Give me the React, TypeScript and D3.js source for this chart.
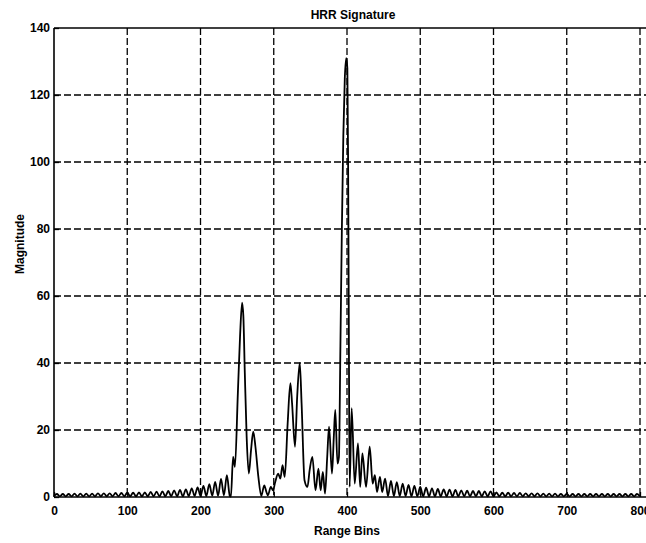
import React, { useRef, useEffect } from 'react';
import * as d3 from 'd3';

// axis ticks
const xTicks = [0, 100, 200, 300, 400, 500, 600, 700, 800];
const yTicks = [0, 20, 40, 60, 80, 100, 120, 140];

// sidelobe ripple left of the target, one sample every 4 bins from bin 0
const leftStart = 0;
const sideStep = 4;
const leftLobes = [
  0.3, 0.9, 0.2, 0.9, 0.2, 0.9, 0.2, 1.0, 0.2, 1.0,
  0.2, 1.0, 0.2, 1.0, 0.2, 1.1, 0.2, 1.1, 0.2, 1.1,
  0.2, 1.2, 0.2, 1.2, 0.2, 1.3, 0.2, 1.3, 0.2, 1.4,
  0.2, 1.4, 0.2, 1.5, 0.2, 1.6, 0.2, 1.7, 0.2, 1.8,
  0.2, 2.0, 0.2, 2.1, 0.2, 2.3, 0.3, 2.6, 0.3, 2.9,
  0.3, 3.3, 0.3, 3.8, 0.4, 4.5, 0.4, 5.4, 0.5, 6.5,
];

// scatterers, [bin, magnitude]
const coreProfile: [number, number][] = [
  [240, 0.3], [241.5, 0.1], [244.5, 12], [247, 9], [251, 31], [254, 48],
  [256.8, 58], [258.5, 54], [260.5, 37], [263, 18], [266, 7], [269, 14],
  [272, 19.5], [275, 15], [279, 6], [283, 0.3], [287, 3.5], [290, 1.5],
  [292, 0.5], [296, 3], [299, 2], [302, 4.5], [306, 7], [309, 5.5],
  [312, 9.5], [315, 6], [319, 22], [322.7, 34], [325, 28], [329, 15],
  [332, 30], [335.5, 40], [338, 28], [342, 5], [346, 3], [349, 8],
  [352.7, 12], [357, 2], [361, 8.5], [364, 2], [367, 7.5], [370, 1],
  [373, 12], [375.5, 21], [379.5, 7], [382, 18], [384, 26], [387, 10],
  [389, 12], [391, 45], [393, 80], [395, 108], [397, 125], [399, 131],
  [400.5, 128], [401.5, 100], [402.5, 50], [403.6, 3], [406.4, 26.5],
  [410.5, 4], [415, 16], [418, 3], [421, 13], [426, 3], [431, 15],
  [435, 4], [438, 6.5], [441, 1.5], [445, 6], [448, 1.5], [452, 5.5],
];

// sidelobe ripple right of the target, every 4 bins from bin 456
const rightStart = 456;
const rightLobes = [
  0.3, 4.8, 0.3, 4.4, 0.3, 4.0, 0.3, 3.6, 0.2, 3.3,
  0.2, 3.0, 0.2, 2.8, 0.2, 2.6, 0.2, 2.4, 0.2, 2.3,
  0.2, 2.2, 0.2, 2.1, 0.2, 2.0, 0.2, 1.9, 0.2, 1.8,
  0.2, 1.8, 0.2, 1.7, 0.2, 1.7, 0.2, 1.4, 0.2, 1.3,
  0.2, 1.3, 0.2, 1.2, 0.2, 1.2, 0.2, 1.1, 0.2, 1.1,
  0.2, 1.1, 0.2, 1.0, 0.2, 1.0, 0.2, 1.0, 0.2, 0.9,
  0.2, 0.9, 0.2, 0.9, 0.2, 0.9, 0.2, 0.9, 0.2, 0.9,
  0.2, 0.9, 0.2, 0.9, 0.2, 0.9, 0.2, 0.9, 0.2, 0.9,
  0.2, 0.9, 0.2, 0.9, 0.2, 0.9, 0.2,
];

const font = "'Liberation Sans', Arial, Helvetica, sans-serif";

export default function App() {
  const svgRef = useRef<SVGSVGElement>(null);

  useEffect(() => {
    const svg = d3.select(svgRef.current);
    svg.selectAll('*').remove();

    const left = 54, right = 640, top = 28, bottom = 497;

    const xScale = d3.scaleLinear().domain([0, 800]).range([left, right]);
    const yScale = d3.scaleLinear().domain([0, 140]).range([bottom, top]);

    const points: [number, number][] = [
      ...leftLobes.map((v, i) => [leftStart + i * sideStep, v] as [number, number]),
      ...coreProfile,
      ...rightLobes.map((v, i) => [rightStart + i * sideStep, v] as [number, number]),
    ];

    // grid
    const grid = svg.append('g')
      .attr('stroke', '#000')
      .attr('stroke-width', 1.3)
      .attr('stroke-dasharray', '7,3');

    grid.selectAll('.vgrid')
      .data(xTicks.filter(t => t > 0))
      .join('line')
      .attr('x1', d => xScale(d))
      .attr('x2', d => xScale(d))
      .attr('y1', top)
      .attr('y2', bottom);

    grid.selectAll('.hgrid')
      .data(yTicks.filter(t => t > 0 && t < 140))
      .join('line')
      .attr('x1', left)
      .attr('x2', 646)
      .attr('y1', d => yScale(d))
      .attr('y2', d => yScale(d));

    // axes
    const xAxis = d3.axisBottom(xScale).tickValues(xTicks).tickSize(-5).tickPadding(9);
    const gx = svg.append('g').attr('transform', `translate(0,${bottom})`).call(xAxis);
    const yAxis = d3.axisLeft(yScale).tickValues(yTicks).tickSize(-5).tickPadding(4);
    const gy = svg.append('g').attr('transform', `translate(${left},0)`).call(yAxis);

    [gx, gy].forEach(g => {
      g.select('.domain').remove();
      g.selectAll('line').attr('stroke', '#000').attr('stroke-width', 1.3);
      g.selectAll('text')
        .attr('fill', '#000')
        .style('font-family', font)
        .style('font-size', '12px')
        .style('font-weight', 'bold');
    });

    // frame (right side falls outside the picture)
    const frame = svg.append('g').attr('stroke', '#000').attr('stroke-width', 1.6);
    frame.append('line').attr('x1', left).attr('x2', 646).attr('y1', top).attr('y2', top);
    frame.append('line').attr('x1', left).attr('x2', 646).attr('y1', bottom).attr('y2', bottom);
    frame.append('line').attr('x1', left).attr('x2', left).attr('y1', top).attr('y2', bottom);

    // signature
    const line = d3.line<[number, number]>()
      .x(d => xScale(d[0]))
      .y(d => yScale(d[1]))
      .curve(d3.curveMonotoneX);

    svg.append('path')
      .datum(points)
      .attr('d', line)
      .attr('fill', 'none')
      .attr('stroke', '#000')
      .attr('stroke-width', 1.8)
      .attr('stroke-linejoin', 'round');

    // labels
    const label = (txt: string, x: number, y: number, rot = 0) =>
      svg.append('text')
        .attr('transform', `translate(${x},${y}) rotate(${rot})`)
        .attr('text-anchor', 'middle')
        .style('font-family', font)
        .style('font-size', '12px')
        .style('font-weight', 'bold')
        .text(txt);

    label('HRR Signature', 353, 18.5);
    label('Range Bins', 347, 535);
    label('Magnitude', 24, 244, -90);
  }, []);

  return (
    <svg
      ref={svgRef}
      width={646}
      height={543}
      style={{ position: 'absolute', left: 0, top: 0, background: '#fff' }}
    />
  );
}
